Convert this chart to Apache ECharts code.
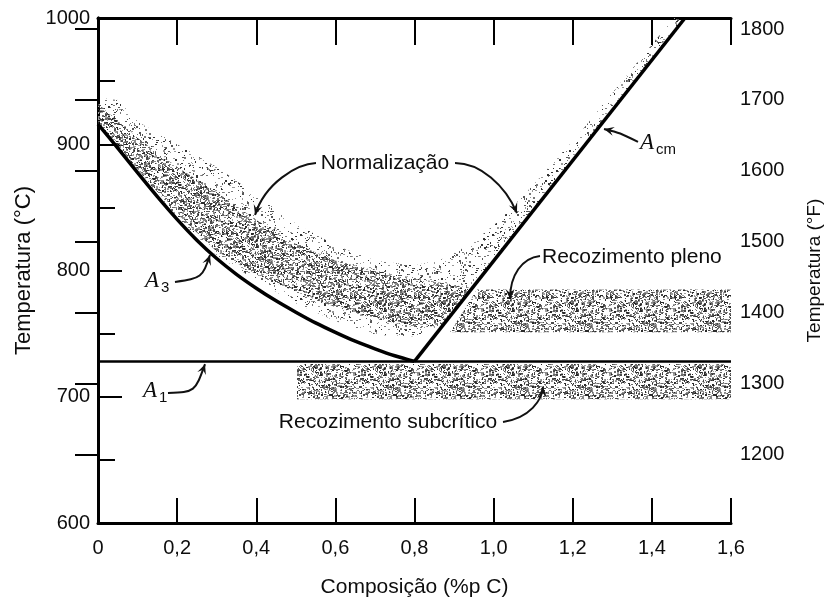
<!DOCTYPE html>
<html>
<head>
<meta charset="utf-8">
<script src="https://cdn.jsdelivr.net/npm/echarts@6/dist/echarts.min.js"></script>
<style>
html,body{margin:0;padding:0;background:#fff;}
#chart{width:828px;height:598px;}
</style>
</head>
<body>
<div id="chart"></div>
<script>
// ---------------- DATA (composition %p C, temperature °C) ----------------
const a3Line = [[0,916],[0.05,897],[0.1,877.5],[0.15,858.5],[0.2,840.5],[0.25,824],[0.3,809.5],[0.35,797],[0.4,786],[0.45,776],[0.5,767],[0.55,758.5],[0.6,751],[0.65,744],[0.7,738],[0.75,732.5],[0.8,728]];
const acmLine = [[0.8,728],[1.4837,1000]];
const a1Line = [[0,728],[1.6,728]];

// Normalização (sparse stipple) band outline
const normalizingBand = [[0,937],[0.05,935],[0.1,918],[0.2,900],[0.3,882],[0.4,860],[0.5,837],[0.6,820],[0.7,808],[0.8,804],[0.88,810],[0.95,823],[1.016,840],[1.1,868],[1.218,909],[1.33,952],[1.454,1000],[1.4837,1000],[0.87,756],[0.8,748],[0.7,749],[0.6,760],[0.5,774],[0.4,792],[0.3,812],[0.2,842],[0.1,880],[0,916]];
// Recozimento pleno (dense stipple) bands
const fullAnnealHypo = [[0,932],[0.1,905],[0.2,882],[0.3,862],[0.4,840],[0.5,821],[0.6,808],[0.7,800],[0.8,794],[0.946,786],[0.87,756],[0.8,755],[0.7,762],[0.6,771],[0.5,783],[0.4,797],[0.3,815],[0.2,845],[0.1,880],[0,914]];
const fullAnnealHyper = [[0.89,751],[1.6,751],[1.6,785],[0.958,785]];
// Recozimento subcrítico band
const subcriticalBand = [[0.503,698],[1.6,698],[1.6,726],[0.503,726]];

const celsiusRange = [600, 1000];
const compositionRange = [0, 1.6];
const fahrenheitTicks = [1200,1300,1400,1500,1600,1700,1800];
const fahrenheitRange = [1104, 1815.5];

const labelNormalizing = 'Normalização';
const labelFullAnneal = 'Recozimento pleno';
const labelSubcritical = 'Recozimento subcrítico';
const xAxisTitle = 'Composição (%p C)';
const yLeftTitle = 'Temperatura (°C)';
const yRightTitle = 'Temperatura (°F)';

// ---------------- LAYOUT of annotations (in data units) ----------------
const arrows = [
  [[0.1946,790.9],[0.2629,794.1],[0.2629,794.1],[0.2831,812.3]],   // A3
  [[0.1769,703.0],[0.2452,703.8],[0.2452,703.8],[0.2705,725.8]],   // A1
  [[1.3649,901.8],[1.3194,909.0],[1.3194,909.0],[1.279,912.1]],    // Acm
  [[0.551,885.1],[0.503,884.4],[0.422,869.3],[0.397,844.0]],       // Normalização left
  [[0.9024,885.1],[0.9656,885.1],[1.0288,867.7],[1.059,845.5]],    // Normalização right
  [[1.1172,811.5],[1.0717,809.9],[1.0414,796.4],[1.0414,777.5]],   // Recozimento pleno
  [[1.0237,680.0],[1.0919,683.2],[1.1223,697.4],[1.1248,707.7]]    // subcrítico
];

const FONT = "'Liberation Sans', Arial, Helvetica, sans-serif";
const SERIF = "'Liberation Serif', 'DejaVu Serif', serif";
const INK = '#0d0d0d';

function makeStipple(size, count, seed, colors) {
  const c = document.createElement('canvas');
  c.width = size; c.height = size;
  const g = c.getContext('2d');
  let s = seed | 0;
  const next = () => { s ^= s << 13; s ^= s >>> 17; s ^= s << 5; return (s >>> 0) / 4294967296; };
  for (let i = 0; i < count; i++) {
    const x = Math.floor(next() * size), y = Math.floor(next() * size);
    g.fillStyle = colors[Math.floor(next() * colors.length)];
    const w = next() < 0.45 ? 2 : 1, h = next() < 0.3 ? 2 : 1;
    g.fillRect(x, y, w, h);
  }
  return c;
}
const denseTex = makeStipple(64, 1250, 12345, ['#2a2a2a','#4a4a4a','#6a6a6a','#8a8a8a','#a0a0a0']);
const sparseTex = makeStipple(64, 300, 98765, ['#333','#555','#777','#999']);

function region(name, pts, tex) {
  return {
    type: 'custom', name: name, xAxisIndex: 0, yAxisIndex: 0, z: 1, silent: true,
    data: [[pts[0][0], pts[0][1]]],
    renderItem: function (params, api) {
      return { type: 'polygon', shape: { points: pts.map(p => api.coord(p)) },
        style: { fill: { image: tex, repeat: 'repeat' }, stroke: null } };
    }
  };
}

const chart = echarts.init(document.getElementById('chart'), null, { renderer: 'canvas' });
const fmtComp = v => (Math.abs(v) < 1e-9 ? '0' : v.toFixed(1).replace('.', ','));
const fmtInt = v => String(Math.round(v));

chart.setOption({
  animation: false,
  backgroundColor: '#fff',
  grid: { left: 98, right: 97, top: 18, bottom: 75, containLabel: false, outerBoundsMode: 'none' },
  xAxis: [
    { type: 'value', position: 'bottom', min: compositionRange[0], max: compositionRange[1], interval: 0.2,
      name: xAxisTitle, nameLocation: 'middle', nameGap: 54,
      nameTextStyle: { fontFamily: FONT, fontSize: 21, color: INK },
      axisLine: { lineStyle: { color: '#000', width: 3 } },
      axisTick: { inside: true, length: 25, lineStyle: { color: '#000', width: 2 } },
      axisLabel: { formatter: fmtComp, fontFamily: FONT, fontSize: 20, color: INK, margin: 15 },
      splitLine: { show: false } },
    { type: 'value', position: 'top', min: compositionRange[0], max: compositionRange[1], interval: 0.2,
      axisLine: { lineStyle: { color: '#000', width: 3 } },
      axisTick: { inside: true, length: 27, lineStyle: { color: '#000', width: 2 } },
      axisLabel: { show: false }, splitLine: { show: false } }
  ],
  yAxis: [
    { type: 'value', position: 'left', min: celsiusRange[0], max: celsiusRange[1], interval: 100,
      name: yLeftTitle, nameLocation: 'middle', nameGap: 54,
      nameTextStyle: { fontFamily: FONT, fontSize: 22, color: INK },
      axisLine: { show: true, lineStyle: { color: '#000', width: 3 } },
      axisTick: { show: true, inside: true, length: 24, lineStyle: { color: '#000', width: 2 } },
      minorTick: { show: true, splitNumber: 2, length: 17, lineStyle: { color: '#000', width: 2 } },
      axisLabel: { formatter: fmtInt, fontFamily: FONT, fontSize: 20, color: INK, margin: 8 },
      splitLine: { show: false } },
    { type: 'value', position: 'right', min: fahrenheitRange[0], max: fahrenheitRange[1],
      name: yRightTitle, nameLocation: 'middle', nameGap: 74,
      nameTextStyle: { fontFamily: FONT, fontSize: 19, color: INK },
      axisLine: { show: true, lineStyle: { color: '#000', width: 3 } },
      axisTick: { show: true, inside: true, length: 23, customValues: fahrenheitTicks, lineStyle: { color: '#000', width: 2 } },
      axisLabel: { customValues: fahrenheitTicks, formatter: fmtInt, fontFamily: FONT, fontSize: 20, color: INK, margin: 9 },
      splitLine: { show: false } }
  ],
  series: [
    region('Normalização', normalizingBand, sparseTex),
    region('Recozimento pleno hipo', fullAnnealHypo, denseTex),
    region('Recozimento pleno hiper', fullAnnealHyper, denseTex),
    region('Recozimento subcrítico', subcriticalBand, denseTex),
    { type: 'line', name: 'A1', data: a1Line, symbol: 'none', z: 3, silent: true,
      lineStyle: { color: '#000', width: 2.5 } },
    { type: 'line', name: 'A3', data: a3Line, symbol: 'none', smooth: 0.3, z: 4, silent: true,
      lineStyle: { color: '#000', width: 3.5 } },
    { type: 'line', name: 'Acm', data: acmLine, symbol: 'none', z: 4, silent: true,
      lineStyle: { color: '#000', width: 3.5 } }
  ]
});

// ---------------- annotations via the chart's own coordinate system ----------------
const P = pt => chart.convertToPixel({ xAxisIndex: 0, yAxisIndex: 0 }, pt);
const graphics = [];
arrows.forEach(a => {
  const s = P(a[0]), c1 = P(a[1]), c2 = P(a[2]), e = P(a[3]);
  graphics.push({ type: 'bezierCurve', z: 10, silent: true,
    shape: { x1: s[0], y1: s[1], cpx1: c1[0], cpy1: c1[1], cpx2: c2[0], cpy2: c2[1], x2: e[0], y2: e[1] },
    style: { stroke: '#111', lineWidth: 2, fill: null } });
  let dx = e[0] - c2[0], dy = e[1] - c2[1];
  const L = Math.hypot(dx, dy) || 1; dx /= L; dy /= L;
  const hl = 10, hw = 4.5;
  const bx = e[0] - dx * hl, by = e[1] - dy * hl;
  graphics.push({ type: 'polygon', z: 10, silent: true,
    shape: { points: [[e[0], e[1]], [bx - dy * hw, by + dx * hw], [e[0] - dx * hl * 0.6, e[1] - dy * hl * 0.6], [bx + dy * hw, by - dx * hw]] },
    style: { fill: '#111' } });
});
function txt(pt, text, size, align, family, italic, dx, dy) {
  const p = P(pt);
  graphics.push({ type: 'text', z: 11, silent: true, x: p[0] + (dx || 0), y: p[1] + (dy || 0),
    style: { text: text, fontSize: size, fontFamily: family || FONT, fontStyle: italic ? 'italic' : 'normal',
      fill: INK, align: align, verticalAlign: 'middle', backgroundColor: 'transparent' } });
}
txt([0.7254, 885.1], labelNormalizing, 21, 'center');
txt([1.1223, 810.7], labelFullAnneal, 21, 'left');
txt([0.733, 680.0], labelSubcritical, 21, 'center');
// A3
txt([0.119, 791.7], 'A', 23, 'left', SERIF, true);
txt([0.119, 791.7], '3', 15, 'left', FONT, false, 16, 7);
// A1
txt([0.114, 704.6], 'A', 23, 'left', SERIF, true);
txt([0.114, 704.6], '1', 15, 'left', FONT, false, 16, 7);
// Acm
txt([1.370, 901], 'A', 23, 'left', SERIF, true);
txt([1.370, 901], 'cm', 15, 'left', FONT, false, 16, 7);

chart.setOption({ graphic: graphics });
</script>
</body>
</html>
